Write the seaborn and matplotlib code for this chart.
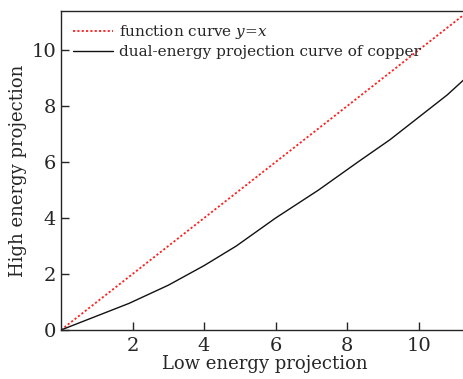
import matplotlib
matplotlib.use("Agg")
import matplotlib.pyplot as plt
import seaborn as sns
import pandas as pd
import numpy as np

# data
x_identity = [0.0, 11.4]
y_identity = [0.0, 11.4]
x_copper = [0.0, 1.9, 3.0, 4.0, 4.9, 6.0, 7.2, 8.3, 9.2, 10.0, 10.8, 11.4]
y_copper = [0.0, 0.95, 1.6, 2.3, 3.0, 4.0, 5.0, 6.0, 6.8, 7.6, 8.4, 9.1]
x_ticks = [2, 4, 6, 8, 10]
y_ticks = [0, 2, 4, 6, 8, 10]

sns.set_style("ticks")
plt.rcParams['font.family'] = ['DejaVu Serif']
plt.rcParams['mathtext.fontset'] = 'dejavuserif'

fig = plt.figure(figsize=(4.64, 3.79), dpi=100)
ax = fig.add_axes([61/464, 1-330/379, 1-61/464+0.01, (330-11)/379])

df1 = pd.DataFrame({"x": x_identity, "y": y_identity})
df2 = pd.DataFrame({"x": x_copper, "y": y_copper})
sns.lineplot(data=df1, x="x", y="y", ax=ax, color="#ff2020", linestyle=(0, (1.2, 1.2)), lw=1.3,
             label=r"function curve $y$=$x$")
sns.lineplot(data=df2, x="x", y="y", ax=ax, color="#111111", lw=1.0,
             label="dual-energy projection curve of copper")

ax.set_xlim(0, 11.4)
ax.set_ylim(0, 11.4)
ax.set_xticks(x_ticks)
ax.set_yticks(y_ticks)
ax.tick_params(direction="in", labelsize=14, length=6, width=1)
ax.tick_params(axis="x", pad=5)
ax.set_xlabel("Low energy projection", fontsize=13, labelpad=0)
ax.set_ylabel("High energy projection", fontsize=13, labelpad=3)
for s in ax.spines.values():
    s.set_linewidth(1.0)
ax.legend(loc="upper left", frameon=False, fontsize=11, handlelength=2.6,
          borderaxespad=0.4, labelspacing=0.25, handletextpad=0.4)
fig.savefig("out.png", dpi=100)
